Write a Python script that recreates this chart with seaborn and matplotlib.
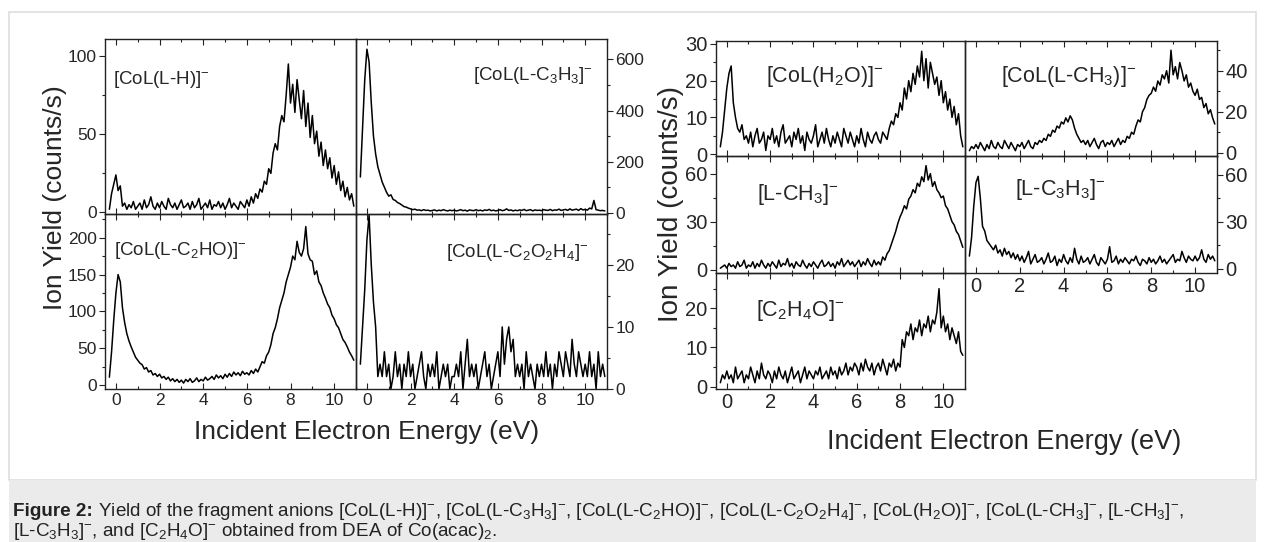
import numpy as np
import seaborn as sns
import matplotlib.pyplot as plt
from matplotlib.patches import Rectangle
from matplotlib.ticker import MultipleLocator

E0 = -0.3
STEP = 0.1

col_lh = [2, 12, 18,
          24, 14, 17, 4, 6, 2, 5, 3, 7, 2,
          4, 6, 2, 8, 3, 5, 10, 4, 2, 6,
          3, 7, 4, 2, 9, 5, 3, 6, 2, 5,
          8, 3, 4, 6, 2, 7, 3, 5, 9, 2,
          4, 6, 3, 8, 2, 5, 4, 7, 3, 6,
          2, 5, 9, 3, 6, 4, 2, 7, 5, 3,
          8, 4, 10, 6, 12, 9, 15, 13, 20, 18,
          28, 25, 38, 44, 40, 55, 62, 58, 75, 95,
          70, 82, 64, 85, 72, 60, 78, 55, 70, 48,
          62, 44, 52, 36, 45, 30, 40, 28, 35, 22,
          30, 18, 26, 14, 20, 10, 16, 8, 12, 4]

col_lc3h3 = [140, 330, 520,
             640, 590, 430, 300, 230, 180, 150, 120, 100, 80,
             65, 70, 52, 48, 40, 36, 30, 24, 22, 18,
             15, 12, 14, 10, 11, 8, 12, 9, 10, 7,
             9, 11, 7, 10, 8, 12, 9, 7, 10, 8,
             10, 7, 9, 12, 8, 10, 6, 11, 9, 8,
             12, 8, 10, 7, 11, 9, 13, 8, 10, 7,
             9, 12, 8, 10, 15, 9, 11, 7, 10, 8,
             11, 9, 13, 8, 10, 12, 7, 11, 9, 10,
             8, 12, 10, 9, 13, 8, 11, 10, 14, 9,
             11, 13, 9, 15, 10, 12, 14, 9, 16, 11,
             13, 10, 18, 15, 48, 12, 10, 8, 9, 7]

col_lc2ho = [11, 45, 88,
             125, 150, 140, 105, 85, 70, 60, 52, 45, 38,
             34, 30, 28, 22, 24, 18, 20, 14, 16, 12,
             15, 10, 12, 8, 11, 6, 9, 5, 8, 4,
             7, 3, 8, 5, 9, 4, 6, 10, 5, 8,
             6, 11, 7, 9, 12, 8, 14, 10, 13, 9,
             15, 11, 16, 12, 18, 14, 17, 13, 19, 15,
             17, 14, 20, 16, 22, 18, 25, 32, 30, 40,
             45, 55, 70, 78, 90, 105, 115, 125, 140, 150,
             160, 175, 170, 195, 180, 175, 185, 215, 178, 170,
             168, 150, 155, 140, 135, 125, 118, 110, 105, 95,
             90, 82, 78, 70, 62, 58, 52, 45, 40, 34]

col_lc2o2h4 = [4, 10, 16,
               24, 28, 20, 14, 10, 2, 4, 2, 6, 2,
               4, 0, 2, 6, 2, 4, 0, 4, 2, 6,
               2, 4, 0, 2, 4, 6, 2, 0, 4, 2,
               4, 2, 6, 0, 2, 4, 2, 4, 0, 2,
               2, 4, 2, 6, 0, 4, 8, 2, 4, 2,
               4, 0, 2, 4, 6, 2, 4, 0, 2, 4,
               6, 2, 10, 4, 8, 10, 6, 8, 2, 4,
               2, 4, 0, 6, 2, 4, 2, 0, 4, 2,
               4, 2, 6, 2, 4, 0, 4, 2, 6, 4,
               2, 6, 4, 2, 8, 4, 2, 6, 4, 2,
               4, 2, 6, 2, 4, 0, 6, 2, 4, 2]

col_h2o = [2, 6, 12,
           18, 22, 24, 14, 10, 7, 6, 8, 4, 5,
           3, 6, 2, 5, 7, 3, 4, 6, 1, 5,
           4, 7, 3, 5, 2, 6, 8, 3, 4, 5,
           2, 6, 4, 7, 3, 5, 1, 6, 4, 3,
           5, 8, 2, 4, 6, 3, 7, 4, 2, 5,
           3, 6, 4, 2, 7, 5, 3, 6, 4, 2,
           5, 3, 7, 4, 2, 6, 4, 3, 5, 6,
           4, 3, 6, 5, 4, 7, 9, 8, 11, 10,
           14, 12, 18, 15, 20, 17, 22, 19, 24, 21,
           28, 20, 26, 18, 25, 22, 19, 21, 16, 20,
           14, 17, 12, 15, 10, 13, 8, 11, 5, 2]

col_lch3 = [1, 3, 2,
            4, 2, 5, 3, 1, 4, 2, 6, 3, 2,
            5, 3, 2, 6, 4, 2, 5, 3, 1, 4,
            3, 5, 2, 4, 6, 3, 2, 5, 4, 6,
            5, 7, 6, 9, 8, 11, 10, 13, 12, 15,
            14, 17, 15, 18, 16, 12, 9, 7, 5, 6,
            4, 6, 3, 5, 7, 4, 2, 5, 6, 3,
            5, 4, 6, 3, 5, 7, 4, 6, 5, 8,
            7, 10, 9, 13, 16, 15, 20, 22, 26, 28,
            29, 32, 30, 35, 33, 38, 36, 40, 34, 50,
            38, 42, 36, 44, 40, 35, 38, 32, 34, 30,
            28, 31, 26, 27, 22, 24, 19, 21, 17, 14]

l_ch3 = [1, 2, 3,
         1, 4, 2, 3, 1, 5, 2, 3, 6, 1,
         3, 2, 5, 1, 4, 2, 6, 3, 1, 4,
         2, 5, 3, 1, 6, 2, 4, 3, 7, 2,
         4, 1, 5, 3, 2, 6, 3, 1, 4, 2,
         5, 3, 1, 4, 6, 2, 3, 5, 2, 4,
         1, 5, 3, 7, 2, 4, 6, 3, 5, 2,
         4, 6, 2, 5, 3, 7, 4, 2, 6, 3,
         5, 3, 8, 6, 10, 12, 16, 20, 24, 29,
         33, 36, 40, 38, 44, 46, 50, 48, 54, 52,
         58, 55, 65, 56, 60, 52, 55, 50, 48, 45,
         46, 40, 38, 34, 30, 28, 24, 22, 18, 14]

l_c3h3 = [8, 20, 40,
          55, 59, 45, 27, 24, 18, 16, 14, 12, 15,
          10, 12, 8, 13, 9, 11, 7, 10, 6, 9,
          5, 8, 4, 7, 11, 3, 6, 9, 4, 5,
          7, 3, 6, 10, 4, 5, 8, 2, 6, 4,
          9, 5, 3, 7, 4, 13, 6, 3, 8, 4,
          5, 7, 3, 6, 9, 4, 2, 7, 5, 3,
          6, 14, 4, 5, 8, 3, 6, 4, 7, 5,
          3, 6, 5, 8, 4, 2, 6, 5, 3, 7,
          4, 6, 3, 5, 8, 4, 6, 3, 5, 7,
          9, 4, 6, 5, 11, 7, 4, 8, 6, 5,
          8, 5, 7, 12, 6, 4, 9, 6, 8, 5]

c2h4o = [1, 3, 2,
         4, 2, 3, 1, 5, 2, 3, 4, 1, 3,
         2, 5, 3, 1, 4, 2, 6, 3, 2, 4,
         3, 1, 4, 2, 5, 3, 2, 4, 1, 3,
         5, 2, 3, 4, 1, 3, 5, 2, 4, 3,
         2, 4, 3, 5, 2, 3, 4, 2, 5, 3,
         4, 2, 5, 3, 4, 6, 3, 5, 4, 6,
         5, 3, 6, 4, 7, 5, 4, 6, 3, 5,
         6, 4, 7, 5, 3, 6, 5, 7, 4, 6,
         5, 12, 10, 14, 13, 16, 12, 15, 14, 17,
         13, 16, 15, 18, 14, 17, 16, 19, 25, 15,
         18, 14, 16, 12, 15, 13, 11, 14, 9, 8]

labels = [r"[CoL(L-H)]$^{-}$", r"[CoL(L-C$_3$H$_3$]$^{-}$",
          r"[CoL(L-C$_2$HO)]$^{-}$", r"[CoL(L-C$_2$O$_2$H$_4$]$^{-}$",
          r"[CoL(H$_2$O)]$^{-}$", r"[CoL(L-CH$_3$)]$^{-}$",
          r"[L-CH$_3$]$^{-}$", r"[L-C$_3$H$_3$]$^{-}$",
          r"[C$_2$H$_4$O]$^{-}$"]
spectra = [col_lh, col_lc3h3, col_lc2ho, col_lc2o2h4,
           col_h2o, col_lch3, l_ch3, l_c3h3, c2h4o]

sns.set_style("ticks")
plt.rcParams['font.family'] = ['Liberation Sans', 'DejaVu Sans']
plt.rcParams['mathtext.fontset'] = 'custom'
plt.rcParams['mathtext.rm'] = 'Liberation Sans'
plt.rcParams['mathtext.it'] = 'Liberation Sans:italic'
plt.rcParams['mathtext.bf'] = 'Liberation Sans:bold'

W, H = 1265, 542
fig = plt.figure(figsize=(W / 100, H / 100), dpi=100)
fig.patch.set_facecolor('white')

# panel boxes in pixels: left, top, right, bottom
# plus ylim, y major/minor step, label side, show x labels, label pos, fontsize
panels = [
    ((105, 39, 356, 214), (-1, 111), 50, 25, 'left', False, (0.03, 0.77, 'left'), 12.5),
    ((356, 39, 607, 214), (-5, 680), 200, 100, 'right', False, (0.945, 0.79, 'right'), 12.5),
    ((105, 214, 356, 389), (-5, 232), 50, 25, 'left', True, (0.035, 0.79, 'left'), 12.5),
    ((356, 214, 607, 389), (0, 28.2), 10, 5, 'right', True, (0.925, 0.78, 'right'), 12.5),
    ((716, 41, 965, 156), (-0.5, 30.8), 10, 5, 'left', False, (0.2, 0.69, 'left'), 14.5),
    ((965, 41, 1217, 156), (-1.6, 54.5), 20, 10, 'right', False, (0.143, 0.69, 'left'), 14.5),
    ((716, 156, 965, 273), (-2, 71), 30, 15, 'left', False, (0.165, 0.67, 'left'), 14.5),
    ((965, 156, 1217, 273), (-2.8, 72), 30, 15, 'right', True, (0.2, 0.71, 'left'), 14.5),
    ((716, 273, 965, 389), (-0.6, 29), 10, 5, 'left', True, (0.161, 0.68, 'left'), 14.5),
]

for vals, lab, (box, ylim, ymaj, ymin, side, showx, lpos, fs) in zip(spectra, labels, panels):
    l, t, r, b = box
    ax = fig.add_axes([l / W, 1 - b / H, (r - l) / W, (b - t) / H])
    energy = E0 + STEP * np.arange(len(vals))
    sns.lineplot(x=energy, y=np.array(vals, float), ax=ax, color='black',
                 linewidth=1.1, estimator=None, sort=False, legend=False)
    ax.set_xlim(-0.5, 11)
    ax.set_ylim(*ylim)
    ax.set_xlabel('')
    ax.set_ylabel('')
    ax.xaxis.set_major_locator(MultipleLocator(2))
    ax.xaxis.set_minor_locator(MultipleLocator(1))
    ax.yaxis.set_major_locator(MultipleLocator(ymaj))
    ax.yaxis.set_minor_locator(MultipleLocator(ymin))
    ax.tick_params(axis='x', which='both', direction='in', top=True, bottom=True,
                   labelbottom=showx, labelsize=fs, pad=3, color='#222222')
    ax.tick_params(axis='y', which='both', direction='out',
                   left=(side == 'left'), right=(side == 'right'),
                   labelleft=(side == 'left'), labelright=(side == 'right'),
                   labelsize=fs, pad=2, color='#222222')
    ax.tick_params(which='major', length=4, width=0.8)
    ax.tick_params(which='minor', length=2.5, width=0.8)
    for s in ax.spines.values():
        s.set_linewidth(1.0)
        s.set_color('#222222')
    ax.set_facecolor('none')
    ax.text(lpos[0], lpos[1], lab, transform=ax.transAxes, ha=lpos[2], va='center',
            fontsize=fs + 1)

# axis titles
fig.text(367 / W, 1 - 432 / H, "Incident Electron Energy (eV)", ha='center', va='center', fontsize=19)
fig.text(1004 / W, 1 - 442 / H, "Incident Electron Energy (eV)", ha='center', va='center', fontsize=19.5)
fig.text(55 / W, 1 - 198 / H, "Ion Yield (counts/s)", rotation=90, ha='center', va='center', fontsize=19)
fig.text(671 / W, 1 - 204 / H, "Ion Yield (counts/s)", rotation=90, ha='center', va='center', fontsize=20)

# frame and caption box
fig.patches.append(Rectangle((9 / W, 1 - 480 / H), 1247 / W, 468 / H, transform=fig.transFigure,
                             fill=False, edgecolor='#dedede', linewidth=1.2))
fig.patches.append(Rectangle((9 / W, 0), 1247 / W, 62 / H, transform=fig.transFigure,
                             facecolor='#ebebeb', edgecolor='none'))

cap1 = (r" Yield of the fragment anions [CoL(L-H)]$^{-}$, [CoL(L-C$_3$H$_3$]$^{-}$, "
        r"[CoL(L-C$_2$HO)]$^{-}$, [CoL(L-C$_2$O$_2$H$_4$]$^{-}$, [CoL(H$_2$O)]$^{-}$, "
        r"[CoL(L-CH$_3$]$^{-}$, [L-CH$_3$]$^{-}$,")
cap2 = r"[L-C$_3$H$_3$]$^{-}$, and [C$_2$H$_4$O]$^{-}$ obtained from DEA of Co(acac)$_2$."
bold = fig.text(13 / W, 1 - 511 / H, "Figure 2:", fontweight='bold', fontsize=13.6,
                va='center', color='#222222')
fig.canvas.draw()
bb = bold.get_window_extent(renderer=fig.canvas.get_renderer())
fig.text(bb.x1 / W, 1 - 511 / H, cap1, fontsize=13.6, va='center', color='#222222')
fig.text(13 / W, 1 - 531 / H, cap2, fontsize=13.6, va='center', color='#222222')

fig.savefig('out.png', dpi=100)
